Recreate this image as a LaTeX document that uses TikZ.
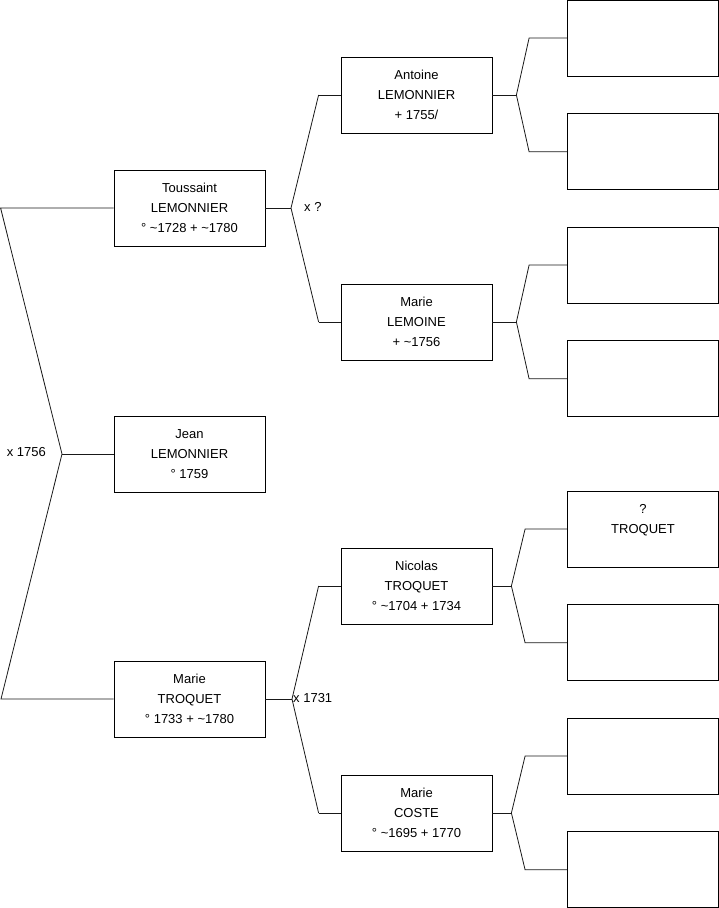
\documentclass[tikz,border=0pt]{standalone}
\usepackage{fontspec}
\setmainfont{Liberation Sans}
\usetikzlibrary{positioning}

\begin{document}
\begin{tikzpicture}[
		x=1pt, y=-1pt,
		person/.style={
			rectangle, draw, line width=0.8pt,
			minimum width=151pt, minimum height=76pt, inner sep=0pt,
			align=center, font=\fontsize{13}{20}\selectfont
		},
		unknown/.style={
			person, minimum width=151pt
		},
		union/.style={
			inner sep=0pt, font=\fontsize{13}{16}\selectfont
		},
		link/.style={line width=0.8pt, black!90}
		]
		
		\useasboundingbox (0,0) rectangle (719,908);
		
		% child and parents
		\node[person] (toussaint) at (189.5,208) {Toussaint\\LEMONNIER\\° \textasciitilde1728 + \textasciitilde1780};
		\node[person] (jean) at (189.5,454) {Jean\\LEMONNIER\\° 1759};
		\node[person] (troquet) at (189.5,699) {Marie\\TROQUET\\° 1733 + \textasciitilde1780};
		
		% grandparents
		\node[person] (antoine) at (416.5,95) {Antoine\\LEMONNIER\\+ 1755/};
		\node[person] (lemoine) at (416.5,322) {Marie\\LEMOINE\\+ \textasciitilde1756};
		\node[person] (nicolas) at (416.5,586) {Nicolas\\TROQUET\\° \textasciitilde1704 + 1734};
		\node[person] (coste) at (416.5,813) {Marie\\COSTE\\° \textasciitilde1695 + 1770};
		
		% great-grandparents
		\node[unknown] (ggA) at (643,38) {};
		\node[unknown, below=37pt of ggA] (ggB) {};
		\node[unknown] (ggC) at (643,265) {};
		\node[unknown, below=37pt of ggC] (ggD) {};
		\node[unknown] (ggE) at (643,529) {?\\TROQUET\\~};
		\node[unknown, below=37pt of ggE] (ggF) {};
		\node[unknown] (ggG) at (643,756) {};
		\node[unknown, below=37pt of ggG] (ggH) {};
		
		% unions
		\coordinate (uJean) at (62,454);
		\coordinate (uToussaint) at (291,208);
		\coordinate (uTroquet) at (292,699);
		\coordinate (uAntoine) at ([xshift=24pt]antoine.east);
		\coordinate (uLemoine) at ([xshift=24pt]lemoine.east);
		\coordinate (uNicolas) at ([xshift=19pt]nicolas.east);
		\coordinate (uCoste) at ([xshift=19pt]coste.east);
		
		\node[union, anchor=east] (m1756) at (46,452) {x 1756};
		\node[union, anchor=west] (mUnknown) at (304,207) {x ?};
		\node[union, anchor=west] (m1731) at (293,698) {x 1731};
		
		% connectors
		\draw[link] (toussaint.west) -- ++(-113,0) -- (uJean) -- ++(-61,245) -- (troquet.west);
		\draw[link] (uJean) -- (jean.west);
		
		\draw[link] (toussaint.east) -- (uToussaint);
		\draw[link] ([xshift=-22pt]antoine.west) -- (uToussaint) -- ([xshift=-22pt]lemoine.west);
		\draw[link] ([xshift=-22pt]antoine.west) -- (antoine.west);
		\draw[link] ([xshift=-22pt]lemoine.west) -- (lemoine.west);
		
		\draw[link] (troquet.east) -- (uTroquet);
		\draw[link] ([xshift=-22pt]nicolas.west) -- (uTroquet) -- ([xshift=-22pt]coste.west);
		\draw[link] ([xshift=-22pt]nicolas.west) -- (nicolas.west);
		\draw[link] ([xshift=-22pt]coste.west) -- (coste.west);
		
		\draw[link] (antoine.east) -- (uAntoine);
		\draw[link] (ggA.west) -- ++(-38,0) -- (uAntoine) -- ([xshift=-38pt]ggB.west) -- (ggB.west);
		\draw[link] (lemoine.east) -- (uLemoine);
		\draw[link] (ggC.west) -- ++(-38,0) -- (uLemoine) -- ([xshift=-38pt]ggD.west) -- (ggD.west);
		\draw[link] (nicolas.east) -- (uNicolas);
		\draw[link] (ggE.west) -- ++(-42,0) -- (uNicolas) -- ([xshift=-42pt]ggF.west) -- (ggF.west);
		\draw[link] (coste.east) -- (uCoste);
		\draw[link] (ggG.west) -- ++(-42,0) -- (uCoste) -- ([xshift=-42pt]ggH.west) -- (ggH.west);
	\end{tikzpicture}
\end{document}
